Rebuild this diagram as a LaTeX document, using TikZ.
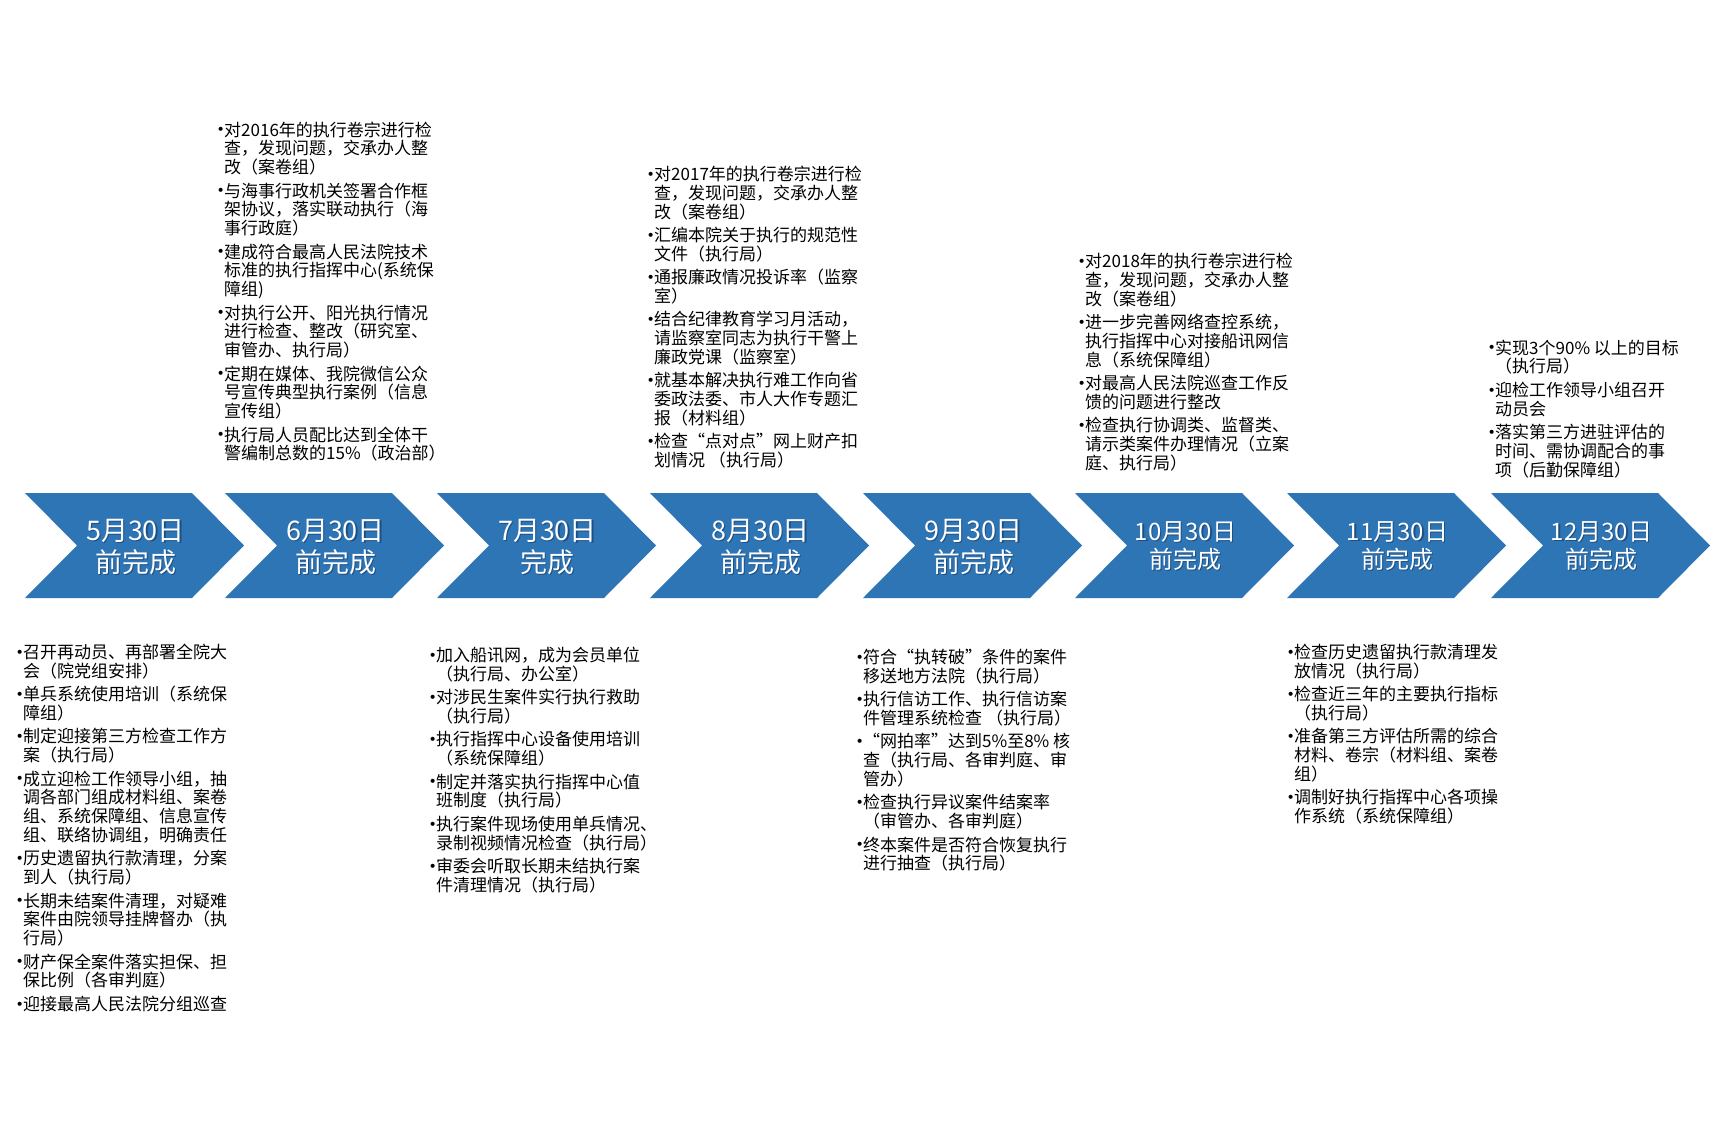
\documentclass[tikz,border=0pt]{standalone}
\usepackage{fontspec}
\setmainfont{Noto Sans CJK SC}
\newfontfamily\dejavu{DejaVu Sans}
\definecolor{chevblue}{RGB}{46,117,182}
\definecolor{shadowblue}{RGB}{20,55,95}
\newcommand\bl{\llap{\raisebox{1.2pt}{\dejavu\fontsize{14}{14}\selectfont •}\kern-0.6pt}}
\newcommand\gap{\noalign{\vskip4.6pt}}
\newcommand\blk[1]{\vtop{\baselineskip=18.8pt\lineskiplimit=-100pt\lineskip=0pt\halign{##\hfil\cr#1\crcr}}}
\newcommand\lab[2]{\vtop{\baselineskip=#1\lineskiplimit=-100pt\lineskip=0pt\halign{\hfil##\hfil\cr#2\crcr}}}
\newcommand\chev[1]{\fill[chevblue] (#1,493) -- ++(167,0) -- ++(52,52.5) -- ++(-52,52.5) -- ++(-167,0) -- ++(52,-52.5) -- cycle;}
\newcommand\chevlabel[5]{%
  \node[#1, text=shadowblue, text opacity=0.6] (#2s) at ([shift={(1.2,1.2)}]#3) {\lab{#4}{#5}};
  \node[#1] (#2) at (#3) {\lab{#4}{#5}};}
\tikzset{
  itemtext/.style={anchor=base west, inner sep=0pt, font=\fontsize{17}{18.8}\selectfont, text=black},
  biglab/.style={anchor=base, inner sep=0pt, font=\fontsize{27}{32}\selectfont, text=white},
  smalllab/.style={anchor=base, inner sep=0pt, font=\fontsize{24}{28}\selectfont, text=white}
}
\begin{document}
\begin{tikzpicture}[x=1pt,y=-1pt]
\useasboundingbox (0,0) rectangle (1718,1143);
\fill[white] (0,0) rectangle (1718,1143);
% chevrons
\chev{25}
\chev{225}
\chev{437}
\chev{650}
\chev{863}
\chev{1075}
\chev{1287}
\chev{1491}
% labels
\chevlabel{biglab}{c1}{135.5,540}{32pt}{5月30日\cr 前完成}
\chevlabel{biglab}{c2}{335.5,540}{32pt}{6月30日\cr 前完成}
\chevlabel{biglab}{c3}{547.5,540}{32pt}{7月30日\cr 完成}
\chevlabel{biglab}{c4}{760.5,540}{32pt}{8月30日\cr 前完成}
\chevlabel{biglab}{c5}{973.5,540}{32pt}{9月30日\cr 前完成}
\chevlabel{smalllab}{c6}{1185.5,540}{28pt}{10月30日\cr 前完成}
\chevlabel{smalllab}{c7}{1397.5,540}{28pt}{11月30日\cr 前完成}
\chevlabel{smalllab}{c8}{1601.5,540}{28pt}{12月30日\cr 前完成}
% top blocks
\node[itemtext] (t6) at (224,136) {\blk{%
\bl 对2016年的执行卷宗进行检\cr
查，发现问题，交承办人整\cr
改（案卷组）\cr\gap
\bl 与海事行政机关签署合作框\cr
架协议，落实联动执行（海\cr
事行政庭）\cr\gap
\bl 建成符合最高人民法院技术\cr
标准的执行指挥中心(系统保\cr
障组)\cr\gap
\bl 对执行公开、阳光执行情况\cr
进行检查、整改（研究室、\cr
审管办、执行局）\cr\gap
\bl 定期在媒体、我院微信公众\cr
号宣传典型执行案例（信息\cr
宣传组）\cr\gap
\bl 执行局人员配比达到全体干\cr
警编制总数的15\%（政治部）}};
\node[itemtext] (t8) at (654,180.5) {\blk{%
\bl 对2017年的执行卷宗进行检\cr
查，发现问题，交承办人整\cr
改（案卷组）\cr\gap
\bl 汇编本院关于执行的规范性\cr
文件（执行局）\cr\gap
\bl 通报廉政情况投诉率（监察\cr
室）\cr\gap
\bl 结合纪律教育学习月活动，\cr
请监察室同志为执行干警上\cr
廉政党课（监察室）\cr\gap
\bl 就基本解决执行难工作向省\cr
委政法委、市人大作专题汇\cr
报（材料组）\cr\gap
\bl 检查“点对点”网上财产扣\cr
划情况 （执行局）}};
\node[itemtext] (t10) at (1085,267.5) {\blk{%
\bl 对2018年的执行卷宗进行检\cr
查，发现问题，交承办人整\cr
改（案卷组）\cr\gap
\bl 进一步完善网络查控系统，\cr
执行指挥中心对接船讯网信\cr
息（系统保障组）\cr\gap
\bl 对最高人民法院巡查工作反\cr
馈的问题进行整改\cr\gap
\bl 检查执行协调类、监督类、\cr
请示类案件办理情况（立案\cr
庭、执行局）}};
\node[itemtext] (t12) at (1495,354) {\blk{%
\bl 实现3个90\% 以上的目标\cr
（执行局）\cr\gap
\bl 迎检工作领导小组召开\cr
动员会\cr\gap
\bl 落实第三方进驻评估的\cr
时间、需协调配合的事\cr
项（后勤保障组）}};
% bottom blocks
\node[itemtext] (b5) at (23,658.5) {\blk{%
\bl 召开再动员、再部署全院大\cr
会（院党组安排）\cr\gap
\bl 单兵系统使用培训（系统保\cr
障组）\cr\gap
\bl 制定迎接第三方检查工作方\cr
案（执行局）\cr\gap
\bl 成立迎检工作领导小组，抽\cr
调各部门组成材料组、案卷\cr
组、系统保障组、信息宣传\cr
组、联络协调组，明确责任\cr\gap
\bl 历史遗留执行款清理，分案\cr
到人（执行局）\cr\gap
\bl 长期未结案件清理，对疑难\cr
案件由院领导挂牌督办（执\cr
行局）\cr\gap
\bl 财产保全案件落实担保、担\cr
保比例（各审判庭）\cr\gap
\bl 迎接最高人民法院分组巡查}};
\node[itemtext] (b7) at (436,661.5) {\blk{%
\bl 加入船讯网，成为会员单位\cr
（执行局、办公室）\cr\gap
\bl 对涉民生案件实行执行救助\cr
（执行局）\cr\gap
\bl 执行指挥中心设备使用培训\cr
（系统保障组）\cr\gap
\bl 制定并落实执行指挥中心值\cr
班制度（执行局）\cr\gap
\bl 执行案件现场使用单兵情况、\cr
录制视频情况检查（执行局）\cr\gap
\bl 审委会听取长期未结执行案\cr
件清理情况（执行局）}};
\node[itemtext] (b9) at (863,663.5) {\blk{%
\bl 符合“执转破”条件的案件\cr
移送地方法院（执行局）\cr\gap
\bl 执行信访工作、执行信访案\cr
件管理系统检查 （执行局）\cr\gap
\bl “网拍率”达到5\%至8\% 核\cr
查（执行局、各审判庭、审\cr
管办）\cr\gap
\bl 检查执行异议案件结案率\cr
（审管办、各审判庭）\cr\gap
\bl 终本案件是否符合恢复执行\cr
进行抽查（执行局）}};
\node[itemtext] (b11) at (1294,658.5) {\blk{%
\bl 检查历史遗留执行款清理发\cr
放情况（执行局）\cr\gap
\bl 检查近三年的主要执行指标\cr
（执行局）\cr\gap
\bl 准备第三方评估所需的综合\cr
材料、卷宗（材料组、案卷\cr
组）\cr\gap
\bl 调制好执行指挥中心各项操\cr
作系统（系统保障组）}};
\end{tikzpicture}
\end{document}
